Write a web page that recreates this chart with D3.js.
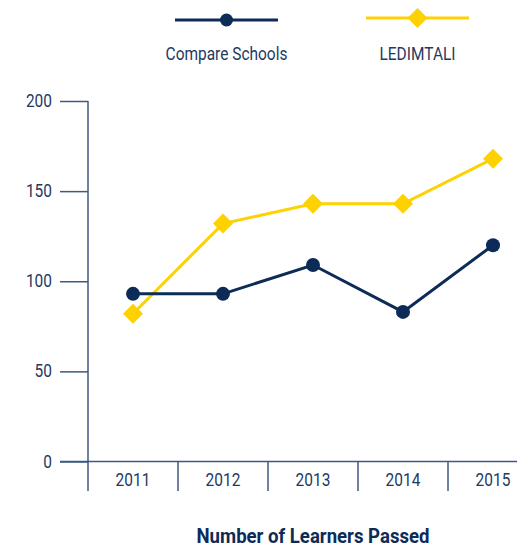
<!DOCTYPE html>
<html>
<head>
<meta charset="utf-8">
<script src="https://cdn.jsdelivr.net/npm/d3@7.9.0/dist/d3.min.js"></script>
<style>
  body { margin: 0; background: #fff; }
  svg text { font-family: "Roboto", "Liberation Sans", sans-serif; fill: #1f3a5f; }
</style>
</head>
<body>
<svg id="chart" width="517" height="549"></svg>
<script>
// chart data
const years = ['2011', '2012', '2013', '2014', '2015'];
const compareSchools = [93, 93, 109, 83, 120];
const ledimtali = [82, 132, 143, 143, 168];
const yTicks = [0, 50, 100, 150, 200];

const navy = '#0c2b57';
const gold = '#fed100';
const axisCol = '#3d5a80';

const svg = d3.select('#chart');

// text drawn narrower than the font to look condensed
function label(parent, x, y, str, size, anchor, weight, color, sx = 0.86) {
  const t = parent.append('text')
    .attr('transform', `translate(${x},${y}) scale(${sx},1)`)
    .attr('text-anchor', anchor)
    .attr('font-size', size)
    .text(str);
  if (weight) t.attr('font-weight', weight);
  if (color) t.style('fill', color);
  return t;
}

// scales
const x = d3.scaleBand().domain(years).range([88, 538]).padding(0);
const y = d3.scaleLinear().domain([0, 200]).range([461.5, 101]);
const cx = d => x(d) + x.bandwidth() / 2;

// y axis ticks
const yAxis = svg.append('g')
  .attr('transform', 'translate(88,0)')
  .call(d3.axisLeft(y).tickValues(yTicks).tickSize(28).tickFormat(''));
yAxis.select('.domain').remove();
yAxis.selectAll('line').attr('stroke', axisCol).attr('stroke-width', 1.5);

const yLab = svg.append('g');
yTicks.forEach(t => label(yLab, 52, y(t) + 6, t, 18, 'end'));

// vertical axis line (runs down into the category strip)
svg.append('line')
  .attr('x1', 88).attr('x2', 88)
  .attr('y1', y(200)).attr('y2', 491)
  .attr('stroke', axisCol).attr('stroke-width', 1.5);

// baseline
svg.append('line')
  .attr('x1', 60).attr('x2', 517)
  .attr('y1', y(0)).attr('y2', y(0))
  .attr('stroke', axisCol).attr('stroke-width', 1.5);

// category separators
svg.append('g').selectAll('line')
  .data(years.slice(1))
  .join('line')
  .attr('x1', d => x(d)).attr('x2', d => x(d))
  .attr('y1', y(0)).attr('y2', 491)
  .attr('stroke', axisCol).attr('stroke-width', 1.5);

// category labels
const xLab = svg.append('g');
years.forEach(d => label(xLab, cx(d), 486, d, 18, 'middle'));

const line = d3.line().x((d, i) => cx(years[i])).y(d => y(d));

// LEDIMTALI series
svg.append('path')
  .datum(ledimtali)
  .attr('d', line)
  .attr('fill', 'none')
  .attr('stroke', gold)
  .attr('stroke-width', 3);

// Compare Schools series
svg.append('path')
  .datum(compareSchools)
  .attr('d', line)
  .attr('fill', 'none')
  .attr('stroke', navy)
  .attr('stroke-width', 3);

const diamond = d3.symbol().type(d3.symbolSquare).size(200);

svg.append('g').selectAll('path')
  .data(ledimtali)
  .join('path')
  .attr('d', diamond)
  .attr('transform', (d, i) => `translate(${cx(years[i])},${y(d)}) rotate(45)`)
  .attr('fill', gold);

svg.append('g').selectAll('circle')
  .data(compareSchools)
  .join('circle')
  .attr('cx', (d, i) => cx(years[i]))
  .attr('cy', d => y(d))
  .attr('r', 7)
  .attr('fill', navy);

// legend
const legend = [
  { name: 'Compare Schools', color: navy, x1: 175, x2: 278, cy: 20, marker: 'circle' },
  { name: 'LEDIMTALI', color: gold, x1: 366, x2: 469, cy: 18, marker: 'diamond' }
];
legend.forEach(l => {
  const mid = (l.x1 + l.x2) / 2;
  svg.append('line')
    .attr('x1', l.x1).attr('x2', l.x2)
    .attr('y1', l.cy).attr('y2', l.cy)
    .attr('stroke', l.color).attr('stroke-width', 3);
  if (l.marker === 'circle') {
    svg.append('circle').attr('cx', mid).attr('cy', l.cy).attr('r', 6.5).attr('fill', l.color);
  } else {
    svg.append('path').attr('d', diamond)
      .attr('transform', `translate(${mid},${l.cy}) rotate(45)`)
      .attr('fill', l.color);
  }
  label(svg, mid, 60, l.name, 18, 'middle');
});

// title
label(svg, 313, 543, 'Number of Learners Passed', 20, 'middle', 'bold', '#0c2b57', 0.93);
</script>
</body>
</html>
